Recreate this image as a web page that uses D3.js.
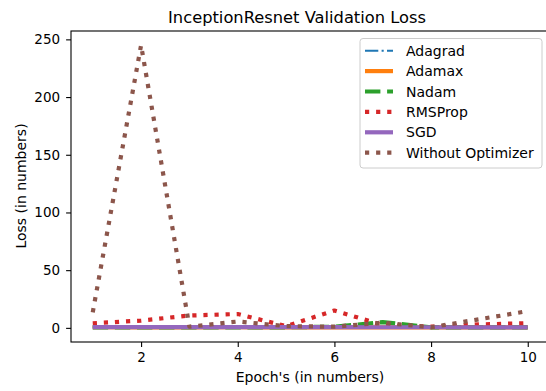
<!DOCTYPE html>
<html>
<head>
<meta charset="utf-8">
<script src="https://cdn.jsdelivr.net/npm/d3@7"></script>
<style>
  body { margin: 0; background: #fff; }
  svg { display: block; font-family: "DejaVu Sans", sans-serif; }
</style>
</head>
<body>
<svg id="chart"></svg>
<script>
const epochs = [1, 2, 3, 4, 5, 6, 7, 8, 9, 10];
const adagrad = [0.69, 0.52, 0.47, 0.44, 0.42, 0.41, 0.40, 0.39, 0.38, 0.38];
const adamax = [0.62, 0.48, 0.45, 0.55, 0.43, 0.47, 0.41, 0.44, 0.40, 0.42];
const nadam = [0.5, 0.5, 0.5, 0.5, 0.5, 1, 5, 0.5, 0.5, 0.5];
const rmsprop = [4, 6.3, 10.7, 12, 1.5, 15, 2.5, 1, 3, 4];
const sgd = [0.69, 0.66, 0.63, 0.60, 0.58, 0.56, 0.54, 0.52, 0.51, 0.50];
const withoutOpt = [13.5, 245, 1, 5.5, 1.5, 1, 4.5, 0.5, 7.5, 14.5];
const xTicks = [2, 4, 6, 8, 10];
const yTicks = [0, 50, 100, 150, 200, 250];

const series = [
  { name: 'Adagrad', values: adagrad, color: '#1f77b4', width: 2.1, dash: '13.3,3.3,2.1,3.3' },
  { name: 'Adamax', values: adamax, color: '#ff7f0e', width: 4.2, dash: null },
  { name: 'Nadam', values: nadam, color: '#2ca02c', width: 4.2, dash: '15.4,6.7' },
  { name: 'RMSProp', values: rmsprop, color: '#d62728', width: 4.2, dash: '4.2,6.9' },
  { name: 'SGD', values: sgd, color: '#9467bd', width: 4.2, dash: null },
  { name: 'Without Optimizer', values: withoutOpt, color: '#8c564b', width: 4.2, dash: '4.2,6.9' }
];

const width = 546, height = 391;
const marginLeft = 71, marginTop = 31, plotW = 478.5, plotH = 311;
const svg = d3.select('#chart').attr('width', width).attr('height', height);

const x = d3.scaleLinear().domain([0.55, 10.45]).range([marginLeft, marginLeft + plotW]);
const y = d3.scaleLinear().domain([-12.25, 257.25]).range([marginTop + plotH, marginTop]);

svg.append('clipPath').attr('id', 'clip')
  .append('rect').attr('x', marginLeft).attr('y', marginTop).attr('width', plotW).attr('height', plotH);

const line = d3.line().x((d, i) => x(epochs[i])).y(d => y(d));

svg.append('g').attr('clip-path', 'url(#clip)')
  .selectAll('path').data(series).enter().append('path')
  .attr('d', d => line(d.values))
  .attr('fill', 'none')
  .attr('stroke', d => d.color)
  .attr('stroke-width', d => d.width)
  .attr('stroke-dasharray', d => d.dash)
  .attr('stroke-linejoin', 'round');

// axes
const xAxis = svg.append('g').attr('transform', `translate(0,${marginTop + plotH})`)
  .call(d3.axisBottom(x).tickValues(xTicks).tickSize(4.9).tickPadding(6).tickSizeOuter(0));
const yAxis = svg.append('g').attr('transform', `translate(${marginLeft},0)`)
  .call(d3.axisLeft(y).tickValues(yTicks).tickSize(4.9).tickPadding(6).tickSizeOuter(0));
[xAxis, yAxis].forEach(g => {
  g.select('.domain').remove();
  g.selectAll('line').attr('stroke', '#000').attr('stroke-width', 1.1);
  g.selectAll('text').attr('font-size', 13.5).attr('fill', '#000')
    .attr('font-family', '"DejaVu Sans", sans-serif');
});

svg.append('rect').attr('x', marginLeft).attr('y', marginTop).attr('width', plotW).attr('height', plotH)
  .attr('fill', 'none').attr('stroke', '#000').attr('stroke-width', 1.1);

// titles
svg.append('text').attr('x', 297).attr('y', 23).attr('text-anchor', 'middle')
  .attr('font-size', 16.3).text('InceptionResnet Validation Loss');
svg.append('text').attr('x', 310).attr('y', 381.5).attr('text-anchor', 'middle')
  .attr('font-size', 14).text("Epoch's (in numbers)");
svg.append('text').attr('transform', 'translate(25.5,186) rotate(-90)').attr('text-anchor', 'middle')
  .attr('font-size', 14).text('Loss (in numbers)');

// legend
const legend = svg.append('g');
legend.append('rect').attr('x', 360).attr('y', 38.5).attr('width', 182).attr('height', 129.5)
  .attr('rx', 3).attr('fill', '#fff').attr('fill-opacity', 0.8)
  .attr('stroke', '#cccccc').attr('stroke-width', 1);
const items = legend.selectAll('g.item').data(series).enter().append('g')
  .attr('transform', (d, i) => `translate(0,${50.7 + i * 20.4})`);
items.append('line').attr('x1', 365).attr('x2', 393).attr('y1', 0).attr('y2', 0)
  .attr('stroke', d => d.color).attr('stroke-width', d => d.width)
  .attr('stroke-dasharray', d => d.dash);
items.append('text').attr('x', 406).attr('y', 5).attr('font-size', 14).text(d => d.name);
</script>
</body>
</html>
